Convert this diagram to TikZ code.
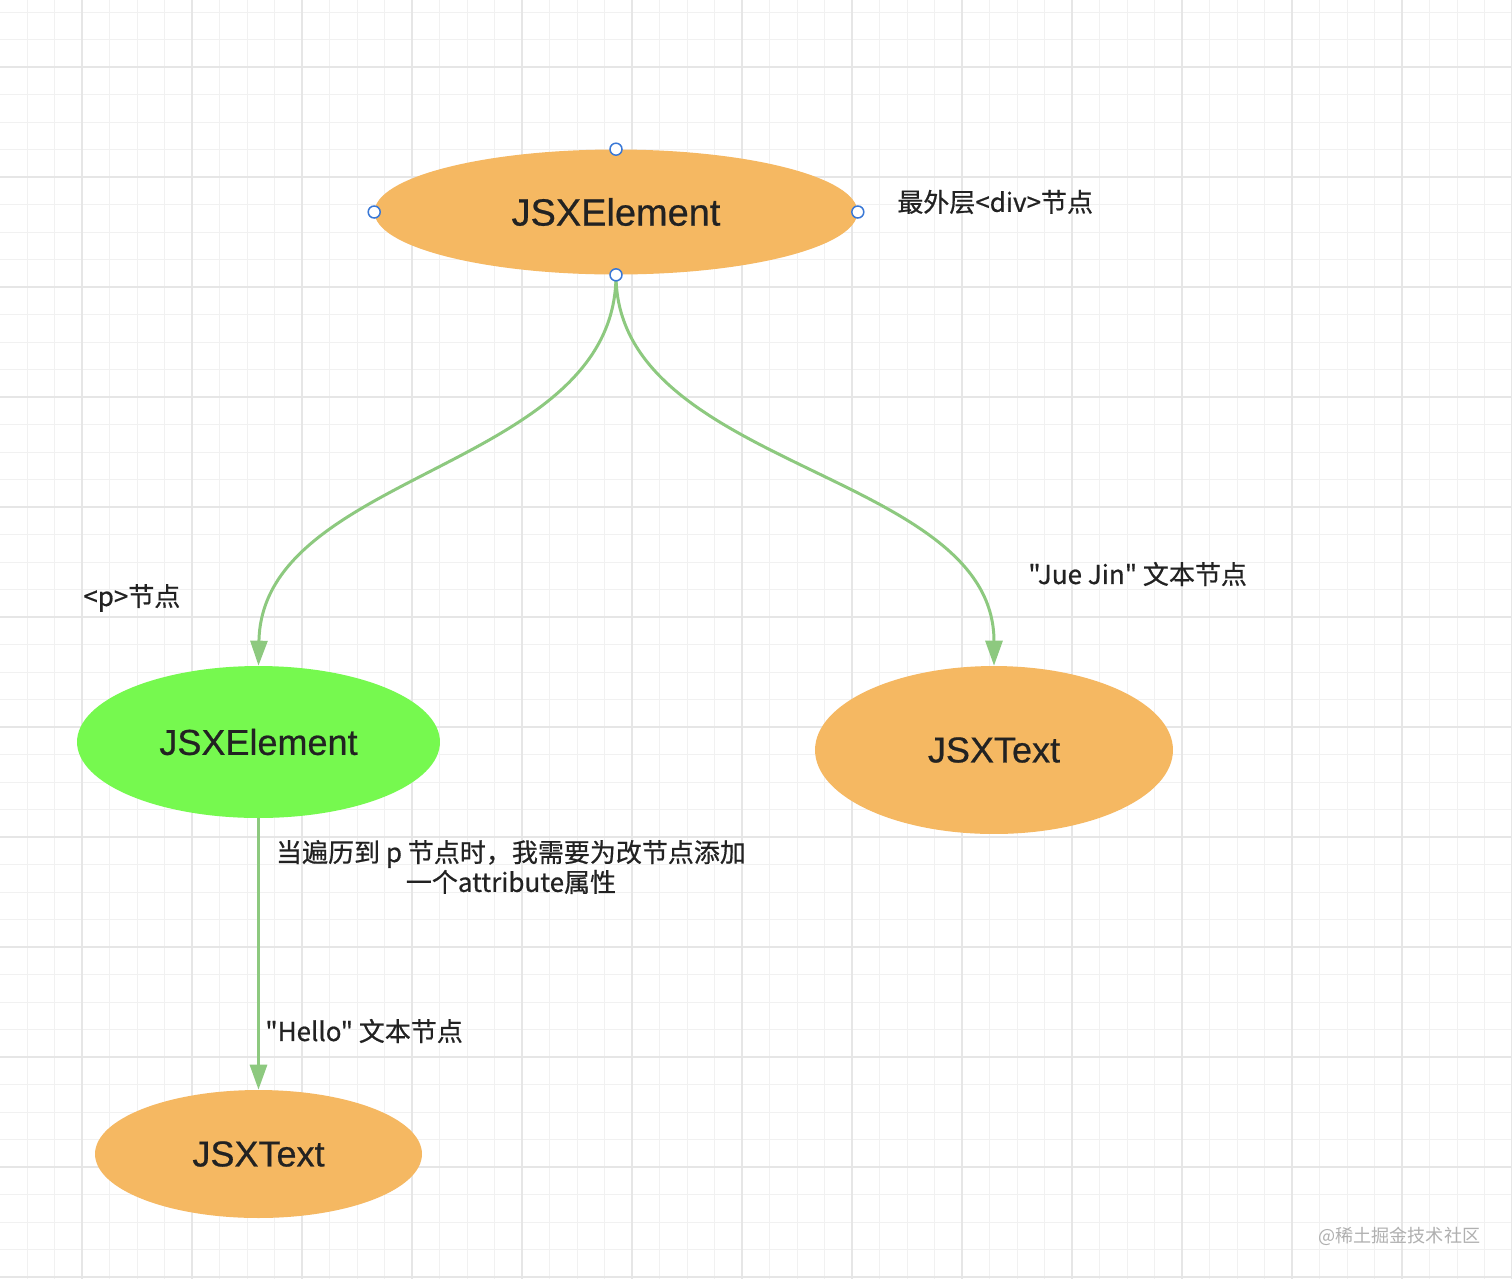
\documentclass[tikz,border=0pt]{standalone}
\usepackage{fontspec}
\setmainfont{Liberation Sans}
\newfontfamily\jsxfont[UprightFeatures={FakeBold=0.6}]{Liberation Sans}
\newfontfamily\cjk[UprightFeatures={FakeBold=0.6}]{Noto Sans CJK SC}
\newfontfamily\cjkmark{Noto Sans CJK SC}
\usepackage{xcolor}
\usetikzlibrary{arrows.meta,positioning,shapes.geometric}
\definecolor{gridFine}{RGB}{241,241,241}
\definecolor{gridMajor}{RGB}{230,230,230}
\definecolor{cOrange}{RGB}{245,184,98}
\definecolor{cGreen}{RGB}{118,249,79}
\definecolor{cEdge}{RGB}{141,201,127}
\definecolor{cAnchor}{RGB}{58,120,214}
\definecolor{cText}{RGB}{34,34,34}
\definecolor{cMark}{RGB}{176,176,176}

\begin{document}
\begin{tikzpicture}[x=0.02cm,y=-0.02cm,
    jsx/.style={ellipse,draw=none,inner sep=0pt,text=cText,font=\jsxfont\fontsize{20.5pt}{24pt}\selectfont},
    note/.style={inner sep=0pt,text=cText,font=\cjk\fontsize{14.8pt}{17pt}\selectfont},
    edge/.style={line width=1.7pt,cEdge,-{Triangle[length=0.5cm,width=0.34cm]}},
    handle/.style={circle,draw=cAnchor,fill=white,line width=0.85pt,inner sep=0pt,minimum size=0.24cm}]
  \useasboundingbox (0,0) rectangle (1512,1279);
  \fill[white] (0,0) rectangle (1512,1279);
  % background grid
  \foreach \x in {-0.5,27,...,1513} \draw[gridFine,line width=0.5pt] (\x,0) -- (\x,1279);
  \foreach \y in {12,39.5,...,1280} \draw[gridFine,line width=0.5pt] (0,\y) -- (1512,\y);
  \foreach \x in {82,192,...,1513} \draw[gridMajor,line width=0.8pt] (\x,0) -- (\x,1279);
  \foreach \y in {67,177,...,1280} \draw[gridMajor,line width=0.8pt] (0,\y) -- (1512,\y);
  % tree nodes
  \node[jsx,fill=cOrange,minimum width=9.66cm,minimum height=2.5cm,font=\jsxfont\fontsize{21.6pt}{24pt}\selectfont] (div) at (616,212) {JSXElement};
  \node[jsx,fill=cGreen,minimum width=7.26cm,minimum height=3.04cm] (para) at (258.5,742) {JSXElement};
  \node[jsx,fill=cOrange,minimum width=7.16cm,minimum height=3.36cm] (juejin) at (994,750) {JSXText};
  \node[jsx,fill=cOrange,minimum width=6.54cm,minimum height=2.56cm] (hello) at (258.5,1154) {JSXText};
  % connectors
  \draw[edge] (div.south) .. controls (616,470) and (262,470) .. (para.north);
  \draw[edge] (div.south) .. controls (616,470) and (994,470) .. (juejin.north);
  \draw[edge] (para.south) -- (hello.north);
  % selection handles on the outer node
  \foreach \a in {north,south,east,west} \node[handle] at (div.\a) {};
  % annotations
  \node[note,anchor=west] (divnote) at (897,202) {最外层<div>节点};
  \node[note,anchor=west] (pnote) at (83,598) {<p>节点};
  \node[note,anchor=west] (juenote) at (1028,574) {"Jue Jin" 文本节点};
  \node[note,align=center] (attrnote) at (511,867) {当遍历到 p 节点时，我需要为改节点添加\\一个attribute属性};
  \node[note,anchor=west] (hellonote) at (265,1031) {"Hello" 文本节点};
  % watermark
  \node[inner sep=0pt,anchor=west,text=cMark,font=\cjkmark\fontsize{10.3pt}{12pt}\selectfont] (mark) at (1318,1236) {@稀土掘金技术社区};
\end{tikzpicture}
\end{document}
